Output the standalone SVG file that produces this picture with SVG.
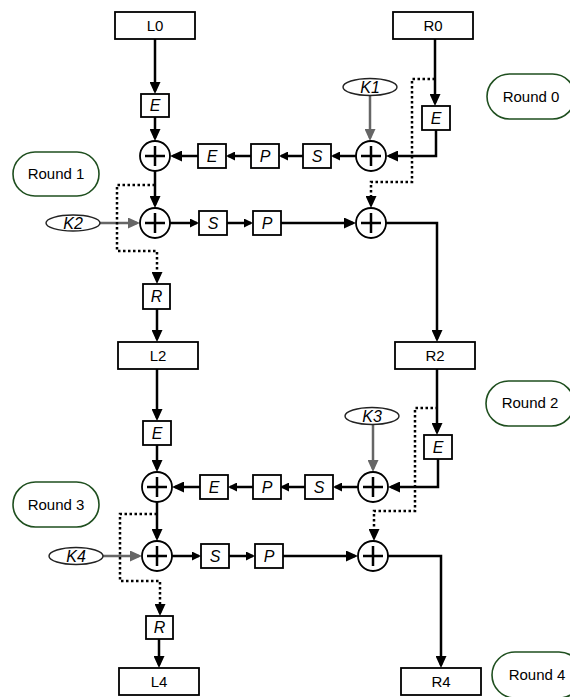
<svg xmlns="http://www.w3.org/2000/svg" width="570" height="697" viewBox="0 0 570 697">
<style>
.box{fill:#fff;stroke:#000;stroke-width:1.8}
.big{fill:#fff;stroke:#000;stroke-width:1.8}
.xor{fill:#fff;stroke:#000;stroke-width:1.8}
.plus{stroke:#000;stroke-width:2.5;fill:none}
.key{fill:#fff;stroke:#222;stroke-width:1.4}
.round{fill:#fff;stroke:#1f4f1f;stroke-width:1.6}
.t{font-family:"Liberation Sans",Arial,sans-serif;font-size:15px;text-anchor:middle;fill:#000}
.ti{font-family:"Liberation Sans",Arial,sans-serif;font-size:16px;font-style:italic;text-anchor:middle;fill:#000}
.tk{font-family:"Liberation Sans",Arial,sans-serif;font-size:16px;font-style:italic;text-anchor:middle;fill:#000}
.tr{font-family:"Liberation Sans",Arial,sans-serif;font-size:15px;text-anchor:middle;fill:#000}
.c{fill:none;stroke:#000;stroke-width:2.5}
.g{fill:none;stroke:#666;stroke-width:2.5}
.d{fill:none;stroke:#000;stroke-width:2.5;stroke-dasharray:2.5 2.5}
</style>
<defs>
<marker id="a" markerUnits="userSpaceOnUse" markerWidth="12" markerHeight="11" viewBox="0 0 12 11" refX="9" refY="5.5" orient="auto"><path d="M0,0 L12,5.5 L0,11 z" fill="#000"/></marker>
<marker id="s" markerUnits="userSpaceOnUse" markerWidth="9" markerHeight="9" viewBox="0 0 9 9" refX="7" refY="4.5" orient="auto"><path d="M0,0 L9,4.5 L0,9 z" fill="#000"/></marker>
<marker id="ga" markerUnits="userSpaceOnUse" markerWidth="12" markerHeight="11" viewBox="0 0 12 11" refX="9" refY="5.5" orient="auto"><path d="M0,0 L12,5.5 L0,11 z" fill="#666"/></marker>
<g id="xorsym"><circle r="15" class="xor"/><path d="M-10,0 H10 M0,-10 V10" class="plus"/></g>
</defs>

<g id="connectors">
<path class="c" d="M155,39 V91" marker-end="url(#a)"/>
<path class="c" d="M155,117 V138" marker-end="url(#a)"/>
<path class="c" d="M435,39 V103" marker-end="url(#a)"/>
<path class="c" d="M436,130 V156 H389" marker-end="url(#a)"/>
<path class="g" d="M370,95 V138" marker-end="url(#ga)"/>
<path class="c" d="M356,156 H333" marker-end="url(#s)"/>
<path class="c" d="M303,156 H281" marker-end="url(#s)"/>
<path class="c" d="M251,156 H228" marker-end="url(#s)"/>
<path class="c" d="M198,156 H173" marker-end="url(#a)"/>
<path class="c" d="M155,171 V205" marker-end="url(#a)"/>
<path class="g" d="M100,223 H137" marker-end="url(#ga)"/>
<path class="c" d="M170,223 H197" marker-end="url(#s)"/>
<path class="c" d="M227,223 H251" marker-end="url(#s)"/>
<path class="c" d="M281,223 H353" marker-end="url(#a)"/>
<path class="c" d="M386,223 H437 V339" marker-end="url(#a)"/>
<path class="d" d="M435,79 H412 V182 H371 V205" marker-end="url(#a)"/>
<path class="d" d="M155,185 H117 V251 H157 V281" marker-end="url(#a)"/>
<path class="c" d="M157,309 V339" marker-end="url(#a)"/>

<path class="c" d="M157,369 V418" marker-end="url(#a)"/>
<path class="c" d="M157,445 V469" marker-end="url(#a)"/>
<path class="c" d="M437,369 V432" marker-end="url(#a)"/>
<path class="c" d="M438,459 V487 H391" marker-end="url(#a)"/>
<path class="g" d="M373,424 V469" marker-end="url(#ga)"/>
<path class="c" d="M358,487 H335" marker-end="url(#s)"/>
<path class="c" d="M305,487 H282" marker-end="url(#s)"/>
<path class="c" d="M253,487 H230" marker-end="url(#s)"/>
<path class="c" d="M200,487 H175" marker-end="url(#a)"/>
<path class="c" d="M157,502 V538" marker-end="url(#a)"/>
<path class="g" d="M103,556 H139" marker-end="url(#ga)"/>
<path class="c" d="M172,556 H199" marker-end="url(#s)"/>
<path class="c" d="M229,556 H253" marker-end="url(#s)"/>
<path class="c" d="M283,556 H355" marker-end="url(#a)"/>
<path class="c" d="M388,556 H441 V665" marker-end="url(#a)"/>
<path class="d" d="M438,408 H415 V511 H374 V538" marker-end="url(#a)"/>
<path class="d" d="M157,514 H120 V581 H160 V613" marker-end="url(#a)"/>
<path class="c" d="M159,639 V665" marker-end="url(#a)"/>
</g>

<g id="L0"><rect class="big" x="115" y="12" width="80" height="27"/><text class="t" x="155" y="31">L0</text></g>
<g id="R0"><rect class="big" x="393" y="12" width="80" height="27"/><text class="t" x="433" y="31">R0</text></g>
<g id="E1"><rect class="box" x="141" y="94" width="28" height="23"/><text class="ti" x="155" y="111">E</text></g>
<g id="E2"><rect class="box" x="422" y="106" width="28" height="24"/><text class="ti" x="436" y="123.5">E</text></g>
<g id="K1"><ellipse class="key" cx="370" cy="87" rx="27" ry="8.5"/><text class="tk" x="370" y="92.5">K1</text></g>
<g id="X1"><use href="#xorsym" x="155" y="156"/></g>
<g id="X2"><use href="#xorsym" x="371" y="156"/></g>
<g id="E3"><rect class="box" x="198" y="144" width="28" height="24"/><text class="ti" x="212" y="161.5">E</text></g>
<g id="P1"><rect class="box" x="251" y="144" width="28" height="24"/><text class="ti" x="265" y="161.5">P</text></g>
<g id="S1"><rect class="box" x="303" y="144" width="28" height="24"/><text class="ti" x="317" y="161.5">S</text></g>
<g id="X3"><use href="#xorsym" x="155" y="223"/></g>
<g id="X4"><use href="#xorsym" x="371" y="223"/></g>
<g id="K2"><ellipse class="key" cx="73" cy="223" rx="27" ry="8"/><text class="tk" x="73" y="228.5">K2</text></g>
<g id="S2"><rect class="box" x="199" y="211" width="28" height="24"/><text class="ti" x="213" y="228.5">S</text></g>
<g id="P2"><rect class="box" x="253" y="211" width="28" height="24"/><text class="ti" x="267" y="228.5">P</text></g>
<g id="R1"><rect class="box" x="143" y="284" width="27" height="25"/><text class="ti" x="156.5" y="302">R</text></g>
<g id="L2"><rect class="big" x="118" y="342" width="80" height="27"/><text class="t" x="158" y="361">L2</text></g>
<g id="R2"><rect class="big" x="395" y="342" width="80" height="27"/><text class="t" x="435" y="361">R2</text></g>

<g id="E4"><rect class="box" x="143" y="421" width="28" height="24"/><text class="ti" x="157" y="438.5">E</text></g>
<g id="E5"><rect class="box" x="424" y="435" width="28" height="24"/><text class="ti" x="438" y="452.5">E</text></g>
<g id="K3"><ellipse class="key" cx="372" cy="416" rx="27" ry="8.5"/><text class="tk" x="372" y="421.5">K3</text></g>
<g id="X5"><use href="#xorsym" x="157" y="487"/></g>
<g id="X6"><use href="#xorsym" x="373" y="487"/></g>
<g id="E6"><rect class="box" x="200" y="475" width="28" height="24"/><text class="ti" x="214" y="492.5">E</text></g>
<g id="P3"><rect class="box" x="253" y="475" width="28" height="24"/><text class="ti" x="267" y="492.5">P</text></g>
<g id="S3"><rect class="box" x="305" y="475" width="28" height="24"/><text class="ti" x="319" y="492.5">S</text></g>
<g id="X7"><use href="#xorsym" x="157" y="556"/></g>
<g id="X8"><use href="#xorsym" x="373" y="556"/></g>
<g id="K4"><ellipse class="key" cx="76" cy="556" rx="27" ry="8.5"/><text class="tk" x="76" y="561.5">K4</text></g>
<g id="S4"><rect class="box" x="201" y="544" width="28" height="24"/><text class="ti" x="215" y="561.5">S</text></g>
<g id="P4"><rect class="box" x="255" y="544" width="28" height="24"/><text class="ti" x="269" y="561.5">P</text></g>
<g id="R3"><rect class="box" x="146" y="616" width="27" height="23"/><text class="ti" x="159.5" y="633">R</text></g>
<g id="L4"><rect class="big" x="119" y="668" width="80" height="27"/><text class="t" x="159" y="687">L4</text></g>
<g id="R4"><rect class="big" x="401" y="668" width="80" height="27"/><text class="t" x="441" y="687">R4</text></g>

<g id="Round0"><rect class="round" x="487" y="74" width="88" height="45" rx="22.5"/><text class="tr" x="531" y="102">Round 0</text></g>
<g id="Round1"><rect class="round" x="13" y="152" width="86" height="44" rx="22"/><text class="tr" x="56" y="179">Round 1</text></g>
<g id="Round2"><rect class="round" x="486" y="381" width="88" height="45" rx="22.5"/><text class="tr" x="530" y="408">Round 2</text></g>
<g id="Round3"><rect class="round" x="13" y="482" width="86" height="45" rx="22.5"/><text class="tr" x="56" y="510">Round 3</text></g>
<g id="Round4"><rect class="round" x="492" y="652" width="90" height="46" rx="23"/><text class="tr" x="537" y="680">Round 4</text></g>
</svg>
